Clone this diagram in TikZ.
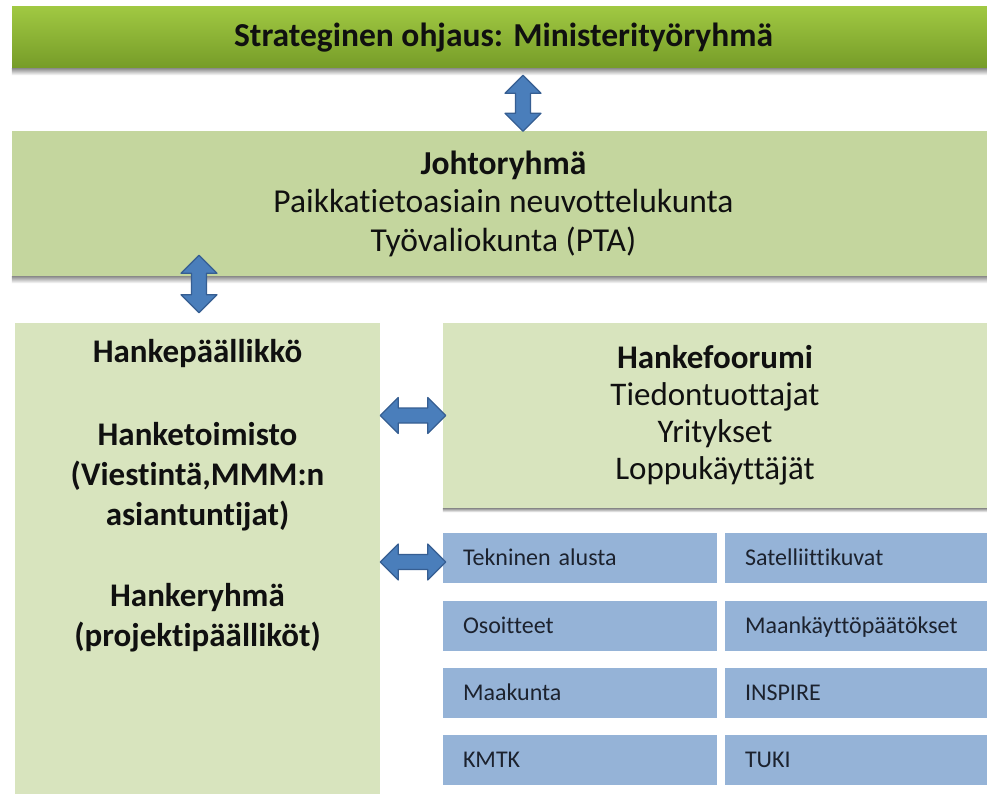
\documentclass[tikz,border=0pt]{standalone}
\usepackage{fontspec}
\setmainfont[Ligatures=NoCommon]{Carlito}
\usetikzlibrary{calc}

\definecolor{bartop}{RGB}{160,200,66}
\definecolor{barbot}{RGB}{118,156,40}
\definecolor{johtofill}{RGB}{196,214,158}
\definecolor{panelfill}{RGB}{216,228,190}
\definecolor{cellfill}{RGB}{149,179,215}
\definecolor{arrowfill}{RGB}{74,126,187}
\definecolor{arrowline}{RGB}{54,94,146}
\definecolor{celltext}{RGB}{28,34,46}
\definecolor{ink}{RGB}{16,16,16}

% block double arrow from tip #1 to tip #2
\newcommand\blockarrow[2]{%
  \filldraw[blockarrow] (#1)
    -- ($(#1)!18pt!(#2)!18pt!90:(#2)$)
    -- ($(#1)!18pt!(#2)!7.5pt!90:(#2)$)
    -- ($(#2)!18pt!(#1)!7.5pt!-90:(#1)$)
    -- ($(#2)!18pt!(#1)!18pt!-90:(#1)$)
    -- (#2)
    -- ($(#2)!18pt!(#1)!18pt!90:(#1)$)
    -- ($(#2)!18pt!(#1)!7.5pt!90:(#1)$)
    -- ($(#1)!18pt!(#2)!7.5pt!-90:(#2)$)
    -- ($(#1)!18pt!(#2)!18pt!-90:(#2)$)
    -- cycle;}

% soft shadow strip below node #1, #2 deep
\newcommand\undershadow[2]{%
  \shade[top color=black!45, bottom color=white]
    (#1.south west) rectangle ($(#1.south east)+(0,#2)$);}

\tikzset{
  banner/.style={draw=none, top color=bartop, bottom color=barbot,
    minimum width=983pt, minimum height=61pt, inner sep=0pt,
    font=\bfseries\fontsize{33.5}{38}\selectfont, text=ink},
  boardbox/.style={fill=johtofill, draw=none,
    minimum width=983pt, minimum height=145pt, inner sep=0pt, align=center,
    font=\fontsize{33.5}{38.5}\selectfont, text=ink},
  panel/.style={fill=panelfill, draw=none, inner sep=0pt},
  paneltext/.style={align=center, inner sep=0pt, text=ink},
  cell/.style={fill=cellfill, draw=none, minimum height=50pt, inner xsep=20pt, inner ysep=0pt,
    align=left, text height=15.4pt, text depth=0pt, text=celltext,
    font=\fontsize{24}{28}\selectfont},
  cellL/.style={cell, minimum width=274pt, text width=234pt},
  cellR/.style={cell, minimum width=262pt, text width=222pt},
  blockarrow/.style={fill=arrowfill, draw=arrowline, line width=1.2pt, line join=round}
}

\begin{document}
\begin{tikzpicture}[x=1pt, y=-1pt]
  \useasboundingbox (0,0) rectangle (987,794);
  \fill[white] (0,0) rectangle (987,794);
  \clip (0,0) rectangle (987,794);

  % strategic steering
  \node[banner] (bar) at (503.5,37.5) {Strateginen ohjaus: Ministerityöryhmä};
  \undershadow{bar}{7}

  % steering board
  \node[boardbox] (johto) at (503.5,203.5)
    {{\bfseries Johtoryhmä}\\Paikkatietoasiain neuvottelukunta\\Työvaliokunta (PTA)};
  \undershadow{johto}{7}

  % project office
  \node[panel, minimum width=365pt, minimum height=480pt] (left) at (197.5,563) {};
  \node[paneltext, anchor=north, font=\bfseries\fontsize{33}{40}\selectfont] (lefttext)
    at ($(left.north)+(0,16)$)
    {Hankepäällikkö\\[43pt]Hanketoimisto\\(Viestintä,MMM:n\\asiantuntijat)\\[41pt]Hankeryhmä\\(projektipäälliköt)};

  % project forum
  \node[panel, minimum width=544pt, minimum height=185pt, align=center,
        font=\fontsize{33}{37}\selectfont, text=ink] (forum) at (715,415.5)
    {{\bfseries Hankefoorumi}\\Tiedontuottajat\\Yritykset\\Loppukäyttäjät};
  \undershadow{forum}{4}

  % sub-projects
  \node[cellL] (c11) at (580,558)   {Tekninen alusta};
  \node[cellR] (c12) at (856,558)   {Satelliittikuvat};
  \node[cellL] (c21) at (580,625.5) {Osoitteet};
  \node[cellR] (c22) at (856,625.5) {Maankäyttöpäätökset};
  \node[cellL] (c31) at (580,692.5) {Maakunta};
  \node[cellR] (c32) at (856,692.5) {INSPIRE};
  \node[cellL] (c41) at (580,760)   {KMTK};
  \node[cellR] (c42) at (856,760)   {TUKI};

  % connector end points
  \coordinate (a1s) at ($(bar.south)+(19.5,7)$);
  \coordinate (a1e) at ($(johto.north)+(19.5,0.5)$);
  \coordinate (a2s) at ($(left.north |- johto.south)+(1.5,-21)$);
  \coordinate (a2e) at ($(left.north)+(1.5,-10)$);
  \coordinate (a3s) at (left.east |- forum.west);
  \coordinate (a3e) at ($(forum.west)+(3,0)$);
  \coordinate (a4s) at ($(left.east |- c11.west)+(0,4)$);
  \coordinate (a4e) at ($(c11.west)+(3,4)$);

  \blockarrow{a1s}{a1e}
  \blockarrow{a2s}{a2e}
  \blockarrow{a3s}{a3e}
  \blockarrow{a4s}{a4e}
\end{tikzpicture}
\end{document}
